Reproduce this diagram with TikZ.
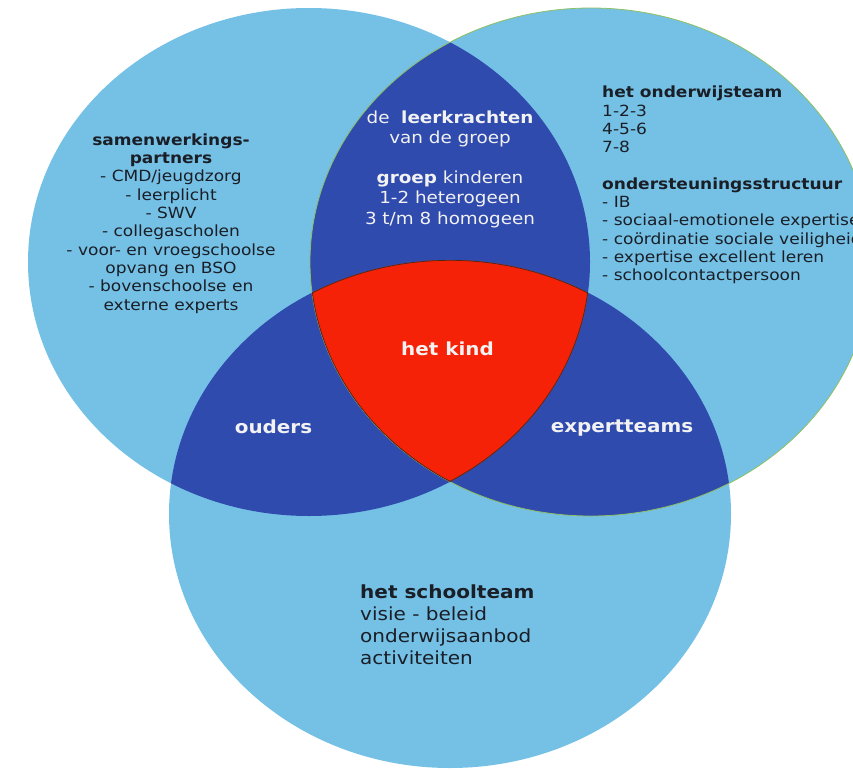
\documentclass[tikz,border=0pt]{standalone}
\usepackage{fontspec}
\setmainfont{DejaVu Sans}[FakeStretch=1.106]
\definecolor{lightb}{HTML}{75C1E6}
\definecolor{darkb}{HTML}{304BAE}
\definecolor{kidred}{HTML}{F52207}
\definecolor{txtdark}{HTML}{1A1E26}
\definecolor{txtwhite}{HTML}{F2F2F2}
\definecolor{rimgreen}{HTML}{8DBF63}
\definecolor{rimdark}{HTML}{4A2A14}
\tikzset{
  venn/.style={x radius=281pt, y radius=254pt},
  darktext/.style={text=txtdark, inner sep=0pt},
  whitetext/.style={text=txtwhite, inner sep=0pt},
  sidefont/.style={font=\fontsize{15.4}{18.3}\selectfont},
  lensfont/.style={font=\fontsize{16.6}{20.2}\selectfont},
  bigfont/.style={font=\fontsize{18.1}{22}\selectfont},
  labelfont/.style={font=\fontsize{18}{22}\selectfont\bfseries}
}
\begin{document}
\begin{tikzpicture}[x=1pt,y=-1pt]
\useasboundingbox (0,0) rectangle (853,770);
\clip (0,0) rectangle (853,770);
\coordinate (cL) at (309,262);
\coordinate (cR) at (591,262);
\coordinate (cB) at (450,514);
% base circles
\fill[lightb] (cL) ellipse [venn];
\fill[lightb] (cR) ellipse [venn];
\fill[lightb] (cB) ellipse [venn];
% pairwise overlaps
\begin{scope}
  \clip (cL) ellipse [venn];
  \fill[darkb] (cR) ellipse [venn];
  \fill[darkb] (cB) ellipse [venn];
\end{scope}
\begin{scope}
  \clip (cR) ellipse [venn];
  \fill[darkb] (cB) ellipse [venn];
\end{scope}
\draw[rimgreen, line width=0.8pt] (cR) ellipse [venn];
% centre
\begin{scope}
  \clip (cL) ellipse [venn];
  \clip (cR) ellipse [venn];
  \clip (cB) ellipse [venn];
  \fill[kidred] (cB) ellipse [venn];
  \draw[rimdark, line width=1.4pt] (cL) ellipse [venn];
  \draw[rimdark, line width=1.4pt] (cR) ellipse [venn];
  \draw[rimdark, line width=1.4pt] (cB) ellipse [venn];
\end{scope}
% texts
\node[darktext, sidefont, align=center] (partners) at (171,223.5)
  {\textbf{samenwerkings-}\\\textbf{partners}\\- CMD/jeugdzorg\\- leerplicht\\- SWV\\- collegascholen\\- voor- en vroegschoolse\\opvang en BSO\\- bovenschoolse en\\externe experts};
\node[darktext, sidefont, align=left, anchor=west] (onderwijs) at (602,185)
  {\textbf{het onderwijsteam}\\1-2-3\\4-5-6\\7-8\\[18.3pt]\textbf{ondersteuningsstructuur}\\- IB\\- sociaal-emotionele expertise\\- coördinatie sociale veiligheid\\- expertise excellent leren\\- schoolcontactpersoon};
\node[whitetext, lensfont, align=center] (leerkrachten) at (450,169)
  {de\ \ \textbf{leerkrachten}\\van de groep\\[20.2pt]\textbf{groep} kinderen\\1-2 heterogeen\\3 t/m 8 homogeen};
\node[darktext, bigfont, align=left, anchor=west] (schoolteam) at (360,625)
  {\textbf{het schoolteam}\\visie - beleid\\onderwijsaanbod\\activiteiten};
\node[whitetext, labelfont] (kind) at (447.5,349) {het kind};
\node[whitetext, labelfont] (ouders) at (273.5,427) {ouders};
\node[whitetext, labelfont] (expert) at (622,428) {expertteams};
\end{tikzpicture}
\end{document}
